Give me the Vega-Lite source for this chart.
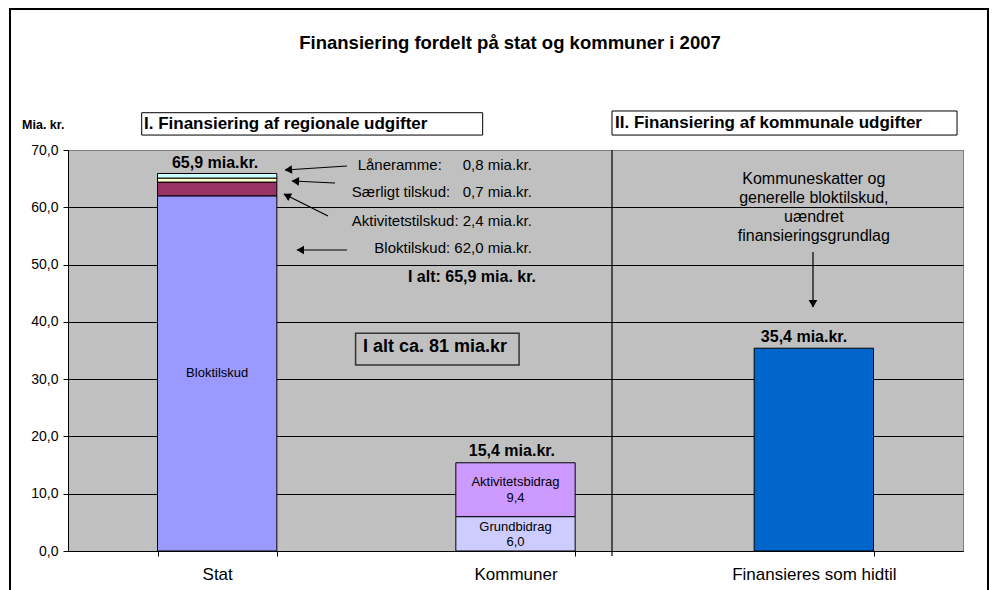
{
  "$schema": "https://vega.github.io/schema/vega-lite/v6.json",
  "width": 895,
  "height": 401,
  "autosize": {"type": "none"},
  "padding": {"left": 68, "top": 150, "right": 34, "bottom": 39},
  "background": "white",
  "config": {
    "font": "Liberation Sans",
    "view": {"fill": "#C0C0C0", "stroke": "#808080", "strokeWidth": 1}
  },
  "layer": [
    {
      "data": {
        "values": [
          {"cat": "Stat", "part": "Bloktilskud", "value": 62.0, "ord": 1},
          {"cat": "Stat", "part": "Aktivitetstilskud", "value": 2.4, "ord": 2},
          {"cat": "Stat", "part": "Særligt tilskud", "value": 0.7, "ord": 3},
          {"cat": "Stat", "part": "Låneramme", "value": 0.8, "ord": 4},
          {"cat": "Kommuner", "part": "Grundbidrag", "value": 6.0, "ord": 1},
          {"cat": "Kommuner", "part": "Aktivitetsbidrag", "value": 9.4, "ord": 2},
          {"cat": "Finansieres som hidtil", "part": "Kommuneskatter og generelle bloktilskud", "value": 35.4, "ord": 1}
        ]
      },
      "mark": {"type": "bar", "stroke": "black", "strokeWidth": 1},
      "encoding": {
        "x": {
          "field": "cat", "type": "nominal",
          "sort": ["Stat", "Kommuner", "Finansieres som hidtil"],
          "scale": {"paddingInner": 0.6, "paddingOuter": 0.3},
          "axis": {
            "title": null, "labelAngle": 0, "labelFontSize": 17, "labelColor": "black",
            "labelPadding": 10, "tickBand": "extent", "tickSize": 5, "tickColor": "black",
            "domainColor": "black", "grid": false, "labelFont": "Liberation Sans"
          }
        },
        "y": {
          "field": "value", "type": "quantitative", "stack": "zero",
          "scale": {"domain": [0, 70], "nice": false},
          "axis": {
            "title": null, "values": [0, 10, 20, 30, 40, 50, 60, 70],
            "labelExpr": "replace(format(datum.value,'.1f'),'.',',')",
            "labelFontSize": 14, "labelColor": "black", "labelFont": "Liberation Sans",
            "tickSize": 5, "tickColor": "black", "domainColor": "black",
            "grid": true,
            "gridColor": {"condition": {"test": "datum.value == 70", "value": "#808080"}, "value": "black"},
            "labelPadding": 5
          }
        },
        "color": {
          "field": "part", "type": "nominal",
          "scale": {
            "domain": ["Bloktilskud", "Aktivitetstilskud", "Særligt tilskud", "Låneramme", "Grundbidrag", "Aktivitetsbidrag", "Kommuneskatter og generelle bloktilskud"],
            "range": ["#9999FF", "#993366", "#FFFFCC", "#CCFFFF", "#CCCCFF", "#CC99FF", "#0066CC"]
          },
          "legend": null
        },
        "order": {"field": "ord", "type": "quantitative"}
      }
    },
    {
      "data": {"values": [{"x1": -0.1944, "x2": 3.0838, "y1": 94.6, "y2": -8.55}]},
      "mark": {"type": "rect", "fillOpacity": 0, "stroke": "black", "strokeWidth": 2},
      "encoding": {
        "x": {"field": "x1", "type": "quantitative", "scale": {"domain": [0, 3]}, "axis": null},
        "x2": {"field": "x2"},
        "y": {"field": "y1", "type": "quantitative", "scale": {"domain": [0, 70]}, "axis": null},
        "y2": {"field": "y2"}
      }
    },
    {
      "data": {
        "values": [
          {"x1": 0.247, "x2": 1.390, "y1": 76.51, "y2": 72.61},
          {"x1": 1.8235, "x2": 2.980, "y1": 76.81, "y2": 72.61}
        ]
      },
      "mark": {"type": "rect", "fill": "white", "stroke": "black", "strokeWidth": 1},
      "encoding": {
        "x": {"field": "x1", "type": "quantitative", "scale": {"domain": [0, 3]}, "axis": null},
        "x2": {"field": "x2"},
        "y": {"field": "y1", "type": "quantitative", "scale": {"domain": [0, 70]}, "axis": null},
        "y2": {"field": "y2"}
      }
    },
    {
      "data": {"values": [{"x1": 0.964, "x2": 1.512, "y1": 38.0, "y2": 32.47}]},
      "mark": {"type": "rect", "fillOpacity": 0, "stroke": "#333333", "strokeWidth": 1.5},
      "encoding": {
        "x": {"field": "x1", "type": "quantitative", "scale": {"domain": [0, 3]}, "axis": null},
        "x2": {"field": "x2"},
        "y": {"field": "y1", "type": "quantitative", "scale": {"domain": [0, 70]}, "axis": null},
        "y2": {"field": "y2"}
      }
    },
    {
      "data": {
        "values": [
          {"x1": 1.8235, "x2": 1.8235, "y1": 70, "y2": -0.87},
          {"x1": 0.9352, "x2": 0.7274, "y1": 67.21, "y2": 66.51},
          {"x1": 0.8950, "x2": 0.7509, "y1": 64.24, "y2": 64.59},
          {"x1": 0.8715, "x2": 0.7240, "y1": 58.48, "y2": 62.32},
          {"x1": 0.9352, "x2": 0.7676, "y1": 52.54, "y2": 52.54},
          {"x1": 2.4972, "x2": 2.4972, "y1": 52.19, "y2": 42.59}
        ]
      },
      "mark": {"type": "rule", "color": "black", "strokeWidth": 1.2},
      "encoding": {
        "x": {"field": "x1", "type": "quantitative", "scale": {"domain": [0, 3]}, "axis": null},
        "x2": {"field": "x2"},
        "y": {"field": "y1", "type": "quantitative", "scale": {"domain": [0, 70]}, "axis": null},
        "y2": {"field": "y2"}
      }
    },
    {
      "data": {
        "values": [
          {"xq": 0.7425, "y": 66.56, "dir": 266},
          {"xq": 0.7660, "y": 64.55, "dir": 273},
          {"xq": 0.7376, "y": 61.95, "dir": 297},
          {"xq": 0.7827, "y": 52.54, "dir": 270},
          {"xq": 2.4972, "y": 43.40, "dir": 180}
        ]
      },
      "mark": {"type": "point", "shape": "triangle", "filled": true, "fill": "black", "opacity": 1, "size": 75, "strokeWidth": 0},
      "encoding": {
        "x": {"field": "xq", "type": "quantitative", "scale": {"domain": [0, 3]}, "axis": null},
        "y": {"field": "y", "type": "quantitative", "scale": {"domain": [0, 70]}, "axis": null},
        "angle": {"field": "dir", "type": "quantitative", "scale": {"domain": [0, 360], "range": [0, 360]}}
      }
    },
    {
      "data": {
        "values": [
          {"xq": 1.555, "y": 67.38, "label": "Låneramme:\u00a0\u00a0\u00a0\u00a0 0,8 mia.kr."},
          {"xq": 1.555, "y": 62.67, "label": "Særligt tilskud:\u00a0\u00a0 0,7 mia.kr."},
          {"xq": 1.555, "y": 57.61, "label": "Aktivitetstilskud: 2,4 mia.kr."},
          {"xq": 1.555, "y": 52.89, "label": "Bloktilskud: 62,0 mia.kr."}
        ]
      },
      "mark": {"type": "text", "align": "right", "baseline": "middle", "fontSize": 15, "fill": "black", "font": "Liberation Sans"},
      "encoding": {
        "x": {"field": "xq", "type": "quantitative", "scale": {"domain": [0, 3]}, "axis": null},
        "y": {"field": "y", "type": "quantitative", "scale": {"domain": [0, 70]}, "axis": null},
        "text": {"field": "label"}
      }
    },
    {
      "data": {
        "values": [
          {"xq": 0.493, "y": 67.73, "label": "65,9 mia.kr."},
          {"xq": 1.488, "y": 17.51, "label": "15,4 mia.kr."},
          {"xq": 2.467, "y": 37.41, "label": "35,4 mia.kr."},
          {"xq": 1.354, "y": 47.83, "label": "I alt: 65,9 mia. kr."}
        ]
      },
      "mark": {"type": "text", "align": "center", "baseline": "middle", "fontSize": 16, "fontWeight": "bold", "fill": "black", "font": "Liberation Sans"},
      "encoding": {
        "x": {"field": "xq", "type": "quantitative", "scale": {"domain": [0, 3]}, "axis": null},
        "y": {"field": "y", "type": "quantitative", "scale": {"domain": [0, 70]}, "axis": null},
        "text": {"field": "label"}
      }
    },
    {
      "data": {
        "values": [
          {"xq": 1.230, "y": 35.66, "label": "I alt ca. 81 mia.kr"}
        ]
      },
      "mark": {"type": "text", "align": "center", "baseline": "middle", "fontSize": 18, "fontWeight": "bold", "fill": "black", "font": "Liberation Sans"},
      "encoding": {
        "x": {"field": "xq", "type": "quantitative", "scale": {"domain": [0, 3]}, "axis": null},
        "y": {"field": "y", "type": "quantitative", "scale": {"domain": [0, 70]}, "axis": null},
        "text": {"field": "label"}
      }
    },
    {
      "data": {
        "values": [
          {"xq": 1.4816, "y": 88.68, "label": "Finansiering fordelt på stat og kommuner i 2007"}
        ]
      },
      "mark": {"type": "text", "align": "center", "baseline": "middle", "fontSize": 18.5, "fontWeight": "bold", "fill": "black", "font": "Liberation Sans"},
      "encoding": {
        "x": {"field": "xq", "type": "quantitative", "scale": {"domain": [0, 3]}, "axis": null},
        "y": {"field": "y", "type": "quantitative", "scale": {"domain": [0, 70]}, "axis": null},
        "text": {"field": "label"}
      }
    },
    {
      "data": {
        "values": [
          {"xq": 0.2547, "y": 74.54, "label": "I. Finansiering af regionale udgifter"},
          {"xq": 1.8335, "y": 74.63, "label": "II. Finansiering af kommunale udgifter"}
        ]
      },
      "mark": {"type": "text", "align": "left", "baseline": "middle", "fontSize": 17, "fontWeight": "bold", "fill": "black", "font": "Liberation Sans"},
      "encoding": {
        "x": {"field": "xq", "type": "quantitative", "scale": {"domain": [0, 3]}, "axis": null},
        "y": {"field": "y", "type": "quantitative", "scale": {"domain": [0, 70]}, "axis": null},
        "text": {"field": "label"}
      }
    },
    {
      "data": {"values": [{"xq": -0.083, "y": 74.36, "label": "Mia. kr."}]},
      "mark": {"type": "text", "align": "center", "baseline": "middle", "fontSize": 12.5, "fontWeight": "bold", "fill": "black", "font": "Liberation Sans"},
      "encoding": {
        "x": {"field": "xq", "type": "quantitative", "scale": {"domain": [0, 3]}, "axis": null},
        "y": {"field": "y", "type": "quantitative", "scale": {"domain": [0, 70]}, "axis": null},
        "text": {"field": "label"}
      }
    },
    {
      "data": {
        "values": [
          {"xq": 2.5, "y": 64.94, "label": "Kommuneskatter og"},
          {"xq": 2.5, "y": 61.62, "label": "generelle bloktilskud,"},
          {"xq": 2.5, "y": 58.36, "label": "uændret"},
          {"xq": 2.5, "y": 54.99, "label": "finansieringsgrundlag"}
        ]
      },
      "mark": {"type": "text", "align": "center", "baseline": "middle", "fontSize": 16, "fill": "black", "font": "Liberation Sans"},
      "encoding": {
        "x": {"field": "xq", "type": "quantitative", "scale": {"domain": [0, 3]}, "axis": null},
        "y": {"field": "y", "type": "quantitative", "scale": {"domain": [0, 70]}, "axis": null},
        "text": {"field": "label"}
      }
    },
    {
      "data": {
        "values": [
          {"xq": 0.5, "y": 31.07, "label": "Bloktilskud"},
          {"xq": 1.5, "y": 11.99, "label": "Aktivitetsbidrag"},
          {"xq": 1.5, "y": 9.20, "label": "9,4"},
          {"xq": 1.5, "y": 4.24, "label": "Grundbidrag"},
          {"xq": 1.5, "y": 1.62, "label": "6,0"}
        ]
      },
      "mark": {"type": "text", "align": "center", "baseline": "middle", "fontSize": 13, "fill": "black", "font": "Liberation Sans"},
      "encoding": {
        "x": {"field": "xq", "type": "quantitative", "scale": {"domain": [0, 3]}, "axis": null},
        "y": {"field": "y", "type": "quantitative", "scale": {"domain": [0, 70]}, "axis": null},
        "text": {"field": "label"}
      }
    }
  ],
  "resolve": {"scale": {"x": "independent"}, "axis": {"x": "independent", "y": "independent"}}
}
